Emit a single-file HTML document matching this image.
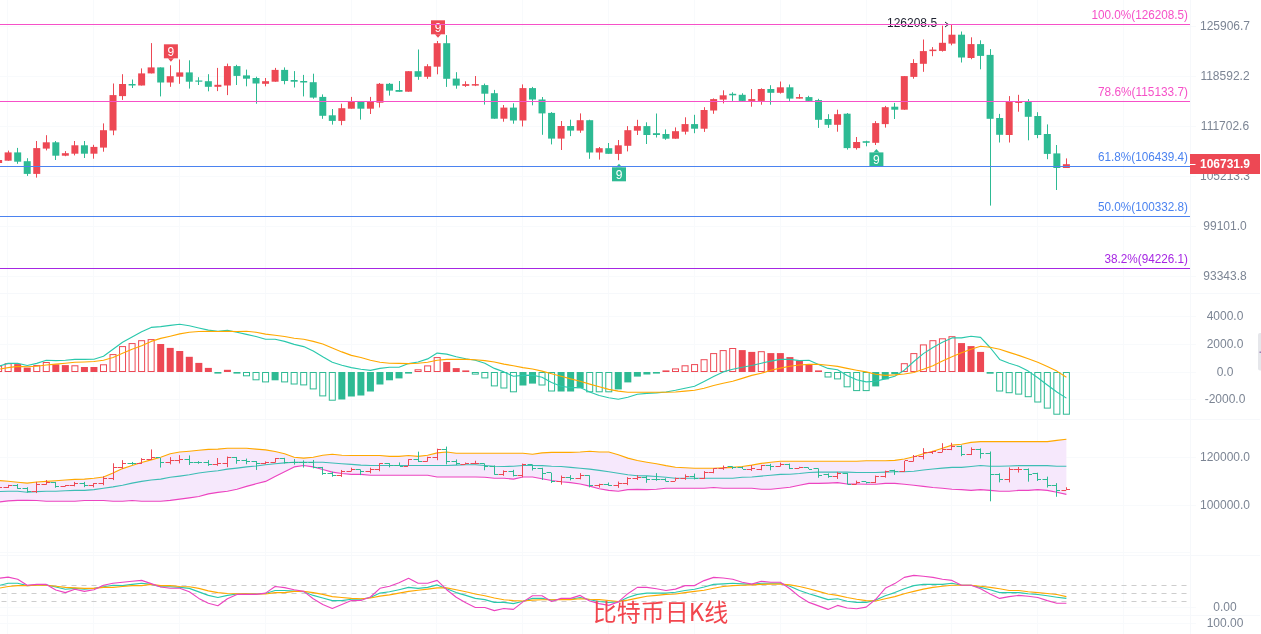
<!DOCTYPE html>
<html lang="zh"><head><meta charset="utf-8"><title>比特币日K线</title>
<style>html,body{margin:0;padding:0;background:#fff}body{width:1261px;height:634px;overflow:hidden}</style>
</head><body>
<svg width="1261" height="634" viewBox="0 0 1261 634" style="display:block;font-family:'Liberation Sans', 'Noto Sans CJK SC', sans-serif">
<rect width="1261" height="634" fill="#fff"/>
<g stroke="#F8FAFC" stroke-width="1" shape-rendering="crispEdges">
<line x1="7.5" y1="0" x2="7.5" y2="634"/>
<line x1="93.5" y1="0" x2="93.5" y2="634"/>
<line x1="179.5" y1="0" x2="179.5" y2="634"/>
<line x1="265.5" y1="0" x2="265.5" y2="634"/>
<line x1="351.5" y1="0" x2="351.5" y2="634"/>
<line x1="436.5" y1="0" x2="436.5" y2="634"/>
<line x1="522.5" y1="0" x2="522.5" y2="634"/>
<line x1="608.5" y1="0" x2="608.5" y2="634"/>
<line x1="694.5" y1="0" x2="694.5" y2="634"/>
<line x1="780.5" y1="0" x2="780.5" y2="634"/>
<line x1="866.5" y1="0" x2="866.5" y2="634"/>
<line x1="951.5" y1="0" x2="951.5" y2="634"/>
<line x1="1037.5" y1="0" x2="1037.5" y2="634"/>
<line x1="1123.5" y1="0" x2="1123.5" y2="634"/>
<line x1="0" y1="26.5" x2="1196" y2="26.5"/>
<line x1="0" y1="76.5" x2="1196" y2="76.5"/>
<line x1="0" y1="126.5" x2="1196" y2="126.5"/>
<line x1="0" y1="176.5" x2="1196" y2="176.5"/>
<line x1="0" y1="226.5" x2="1196" y2="226.5"/>
<line x1="0" y1="276.5" x2="1196" y2="276.5"/>
<line x1="0" y1="316.5" x2="1196" y2="316.5"/>
<line x1="0" y1="344.5" x2="1196" y2="344.5"/>
<line x1="0" y1="372.5" x2="1196" y2="372.5"/>
<line x1="0" y1="399.5" x2="1196" y2="399.5"/>
<line x1="0" y1="457.5" x2="1196" y2="457.5"/>
<line x1="0" y1="505.5" x2="1196" y2="505.5"/>
<line x1="0" y1="552.5" x2="1190" y2="552.5"/>
<line x1="0" y1="607.5" x2="1196" y2="607.5"/>
<line x1="0" y1="623.5" x2="1196" y2="623.5"/>
</g>
<g stroke="#F6F8FB" stroke-width="1" shape-rendering="crispEdges">
<line x1="0" y1="293.5" x2="1260" y2="293.5"/>
<line x1="0" y1="419.5" x2="1260" y2="419.5"/>
<line x1="0" y1="555.5" x2="1260" y2="555.5"/>
<line x1="0" y1="615.5" x2="1260" y2="615.5"/>
<line x1="1190.5" y1="0" x2="1190.5" y2="634"/>
</g>
<text x="887" y="27" font-size="12" fill="#1E2230">126208.5</text>
<path d="M940 24.5H948M945 22L948.3 24.5L945 27" fill="none" stroke="#1E2230" stroke-width="1"/>
<rect x="-2" y="160" width="1" height="3" fill="#ED4854"/>
<rect x="-4.88" y="160" width="7" height="3" fill="#ED4854"/>
<rect x="8" y="150.6" width="1" height="10.1" fill="#ED4854"/>
<rect x="4.65" y="152.4" width="7" height="8.3" fill="#ED4854"/>
<rect x="17" y="147.9" width="1" height="15.9" fill="#2DBA93"/>
<rect x="14.18" y="152.4" width="7" height="9.3" fill="#2DBA93"/>
<rect x="27" y="158.2" width="1" height="17.7" fill="#2DBA93"/>
<rect x="23.72" y="161.2" width="7" height="12.7" fill="#2DBA93"/>
<rect x="36" y="141" width="1" height="36.6" fill="#ED4854"/>
<rect x="33.25" y="148.1" width="7" height="25.8" fill="#ED4854"/>
<rect x="46" y="135.2" width="1" height="15.2" fill="#ED4854"/>
<rect x="42.78" y="142.3" width="7" height="6.3" fill="#ED4854"/>
<rect x="55" y="141" width="1" height="19" fill="#2DBA93"/>
<rect x="52.32" y="142.3" width="7" height="13.4" fill="#2DBA93"/>
<rect x="65" y="151.1" width="1" height="5.1" fill="#ED4854"/>
<rect x="61.85" y="153.2" width="7" height="2.5" fill="#ED4854"/>
<rect x="74" y="141" width="1" height="14.4" fill="#ED4854"/>
<rect x="71.39" y="145.3" width="7" height="8.4" fill="#ED4854"/>
<rect x="84" y="141" width="1" height="17" fill="#2DBA93"/>
<rect x="80.92" y="145.3" width="7" height="8.4" fill="#2DBA93"/>
<rect x="93" y="144.8" width="1" height="13.9" fill="#ED4854"/>
<rect x="90.45" y="146.9" width="7" height="6.8" fill="#ED4854"/>
<rect x="103" y="123.4" width="1" height="28.3" fill="#ED4854"/>
<rect x="99.99" y="130.2" width="7" height="17.4" fill="#ED4854"/>
<rect x="113" y="83.5" width="1" height="51.7" fill="#ED4854"/>
<rect x="109.52" y="95.1" width="7" height="35.4" fill="#ED4854"/>
<rect x="122" y="74.2" width="1" height="25.7" fill="#ED4854"/>
<rect x="119.05" y="84" width="7" height="12.1" fill="#ED4854"/>
<rect x="132" y="79.5" width="1" height="8.5" fill="#2DBA93"/>
<rect x="128.59" y="84" width="7" height="1.5" fill="#2DBA93"/>
<rect x="141" y="68.4" width="1" height="17.1" fill="#ED4854"/>
<rect x="138.12" y="73.4" width="7" height="12.1" fill="#ED4854"/>
<rect x="151" y="43.1" width="1" height="30.3" fill="#ED4854"/>
<rect x="147.65" y="67.4" width="7" height="6" fill="#ED4854"/>
<rect x="160" y="67.4" width="1" height="29" fill="#2DBA93"/>
<rect x="157.19" y="67.4" width="7" height="15.1" fill="#2DBA93"/>
<rect x="170" y="65.3" width="1" height="21.5" fill="#ED4854"/>
<rect x="166.72" y="76.2" width="7" height="6.3" fill="#ED4854"/>
<rect x="179" y="59.5" width="1" height="24.3" fill="#ED4854"/>
<rect x="176.25" y="72.4" width="7" height="4.3" fill="#ED4854"/>
<rect x="189" y="60.3" width="1" height="28.3" fill="#2DBA93"/>
<rect x="185.79" y="72.4" width="7" height="9.3" fill="#2DBA93"/>
<rect x="198" y="77.2" width="1" height="7.8" fill="#2DBA93"/>
<rect x="195.32" y="80.5" width="7" height="1.2" fill="#2DBA93"/>
<rect x="208" y="74.2" width="1" height="17.1" fill="#2DBA93"/>
<rect x="204.86" y="81.2" width="7" height="5.6" fill="#2DBA93"/>
<rect x="217" y="67.9" width="1" height="23.2" fill="#ED4854"/>
<rect x="214.39" y="84.8" width="7" height="2" fill="#ED4854"/>
<rect x="227" y="63.6" width="1" height="31.5" fill="#ED4854"/>
<rect x="223.92" y="66.1" width="7" height="19.4" fill="#ED4854"/>
<rect x="236" y="64.8" width="1" height="20.2" fill="#2DBA93"/>
<rect x="233.46" y="66.1" width="7" height="9.8" fill="#2DBA93"/>
<rect x="246" y="69.6" width="1" height="16.7" fill="#2DBA93"/>
<rect x="242.99" y="75.4" width="7" height="3.3" fill="#2DBA93"/>
<rect x="256" y="76.7" width="1" height="27" fill="#2DBA93"/>
<rect x="252.52" y="78" width="7" height="5.5" fill="#2DBA93"/>
<rect x="265" y="78" width="1" height="8.3" fill="#ED4854"/>
<rect x="262.06" y="81.2" width="7" height="2.6" fill="#ED4854"/>
<rect x="275" y="67.9" width="1" height="13.8" fill="#ED4854"/>
<rect x="271.59" y="69.9" width="7" height="11.8" fill="#ED4854"/>
<rect x="284" y="67.4" width="1" height="16.9" fill="#2DBA93"/>
<rect x="281.12" y="69.9" width="7" height="11.1" fill="#2DBA93"/>
<rect x="294" y="71.1" width="1" height="16.4" fill="#2DBA93"/>
<rect x="290.66" y="80" width="7" height="1.7" fill="#2DBA93"/>
<rect x="303" y="74.9" width="1" height="21.5" fill="#2DBA93"/>
<rect x="300.19" y="81" width="7" height="1.5" fill="#2DBA93"/>
<rect x="313" y="73.7" width="1" height="25" fill="#2DBA93"/>
<rect x="309.73" y="82.2" width="7" height="15.4" fill="#2DBA93"/>
<rect x="322" y="94.4" width="1" height="24.4" fill="#2DBA93"/>
<rect x="319.26" y="96.9" width="7" height="18.9" fill="#2DBA93"/>
<rect x="332" y="109" width="1" height="15.6" fill="#2DBA93"/>
<rect x="328.79" y="115.3" width="7" height="5.6" fill="#2DBA93"/>
<rect x="341" y="103.7" width="1" height="21.5" fill="#ED4854"/>
<rect x="338.33" y="108.2" width="7" height="12.7" fill="#ED4854"/>
<rect x="351" y="96.9" width="1" height="11.8" fill="#ED4854"/>
<rect x="347.86" y="101.9" width="7" height="6.8" fill="#ED4854"/>
<rect x="360" y="101.9" width="1" height="17.7" fill="#2DBA93"/>
<rect x="357.39" y="101.9" width="7" height="6.8" fill="#2DBA93"/>
<rect x="370" y="96.9" width="1" height="17.1" fill="#ED4854"/>
<rect x="366.93" y="101.9" width="7" height="6.8" fill="#ED4854"/>
<rect x="379" y="83" width="1" height="24.5" fill="#ED4854"/>
<rect x="376.46" y="83.8" width="7" height="18.9" fill="#ED4854"/>
<rect x="389" y="83" width="1" height="12.6" fill="#2DBA93"/>
<rect x="385.99" y="83.8" width="7" height="6.8" fill="#2DBA93"/>
<rect x="399" y="81" width="1" height="10.8" fill="#2DBA93"/>
<rect x="395.53" y="90" width="7" height="1.8" fill="#2DBA93"/>
<rect x="408" y="71.2" width="1" height="20.5" fill="#ED4854"/>
<rect x="405.06" y="71.2" width="7" height="20.5" fill="#ED4854"/>
<rect x="418" y="49.5" width="1" height="30.3" fill="#2DBA93"/>
<rect x="414.59" y="71.2" width="7" height="5.6" fill="#2DBA93"/>
<rect x="427" y="64.2" width="1" height="14.6" fill="#ED4854"/>
<rect x="424.13" y="66.2" width="7" height="10.6" fill="#ED4854"/>
<rect x="437" y="41" width="1" height="33.3" fill="#ED4854"/>
<rect x="433.66" y="43.2" width="7" height="23.5" fill="#ED4854"/>
<rect x="446" y="35.1" width="1" height="51.8" fill="#2DBA93"/>
<rect x="443.2" y="43.2" width="7" height="35.6" fill="#2DBA93"/>
<rect x="456" y="72.2" width="1" height="16.5" fill="#2DBA93"/>
<rect x="452.73" y="78.6" width="7" height="7" fill="#2DBA93"/>
<rect x="465" y="81.3" width="1" height="5.6" fill="#ED4854"/>
<rect x="462.26" y="84.1" width="7" height="1.8" fill="#ED4854"/>
<rect x="475" y="76" width="1" height="10.1" fill="#ED4854"/>
<rect x="471.8" y="84.1" width="7" height="1.5" fill="#ED4854"/>
<rect x="484" y="83.6" width="1" height="21" fill="#2DBA93"/>
<rect x="481.33" y="85.1" width="7" height="8.6" fill="#2DBA93"/>
<rect x="494" y="89.9" width="1" height="28.8" fill="#2DBA93"/>
<rect x="490.86" y="93.2" width="7" height="25.5" fill="#2DBA93"/>
<rect x="503" y="105" width="1" height="16.7" fill="#ED4854"/>
<rect x="500.4" y="107.6" width="7" height="11.1" fill="#ED4854"/>
<rect x="513" y="103.3" width="1" height="20.4" fill="#2DBA93"/>
<rect x="509.93" y="107.6" width="7" height="12.9" fill="#2DBA93"/>
<rect x="522" y="84.4" width="1" height="42.1" fill="#ED4854"/>
<rect x="519.46" y="88.1" width="7" height="32.4" fill="#ED4854"/>
<rect x="532" y="86.9" width="1" height="18.4" fill="#2DBA93"/>
<rect x="529" y="88.1" width="7" height="11.4" fill="#2DBA93"/>
<rect x="542" y="97" width="1" height="37.8" fill="#2DBA93"/>
<rect x="538.53" y="99.5" width="7" height="13.9" fill="#2DBA93"/>
<rect x="551" y="112.1" width="1" height="32.3" fill="#2DBA93"/>
<rect x="548.07" y="112.9" width="7" height="25.7" fill="#2DBA93"/>
<rect x="561" y="121" width="1" height="29" fill="#ED4854"/>
<rect x="557.6" y="126" width="7" height="12.6" fill="#ED4854"/>
<rect x="570" y="119.7" width="1" height="16.4" fill="#2DBA93"/>
<rect x="567.13" y="126" width="7" height="4.6" fill="#2DBA93"/>
<rect x="580" y="113.4" width="1" height="19.4" fill="#ED4854"/>
<rect x="576.67" y="120.2" width="7" height="10.4" fill="#ED4854"/>
<rect x="589" y="119.7" width="1" height="39.1" fill="#2DBA93"/>
<rect x="586.2" y="120.2" width="7" height="32.3" fill="#2DBA93"/>
<rect x="599" y="147" width="1" height="12.6" fill="#ED4854"/>
<rect x="595.73" y="148.2" width="7" height="4.3" fill="#ED4854"/>
<rect x="608" y="143" width="1" height="10.8" fill="#2DBA93"/>
<rect x="605.27" y="148.2" width="7" height="5.6" fill="#2DBA93"/>
<rect x="618" y="140" width="1" height="20.2" fill="#ED4854"/>
<rect x="614.8" y="145.3" width="7" height="8.6" fill="#ED4854"/>
<rect x="627" y="126.1" width="1" height="25.3" fill="#ED4854"/>
<rect x="624.33" y="130.2" width="7" height="15.6" fill="#ED4854"/>
<rect x="637" y="119.8" width="1" height="15.2" fill="#ED4854"/>
<rect x="633.87" y="126.1" width="7" height="4.6" fill="#ED4854"/>
<rect x="646" y="122.3" width="1" height="21.7" fill="#2DBA93"/>
<rect x="643.4" y="126.1" width="7" height="8.9" fill="#2DBA93"/>
<rect x="656" y="113.5" width="1" height="24" fill="#2DBA93"/>
<rect x="652.93" y="133.2" width="7" height="1.8" fill="#2DBA93"/>
<rect x="665" y="129.4" width="1" height="10.4" fill="#2DBA93"/>
<rect x="662.47" y="134" width="7" height="4.7" fill="#2DBA93"/>
<rect x="675" y="127.4" width="1" height="11.3" fill="#ED4854"/>
<rect x="672" y="131.2" width="7" height="7.5" fill="#ED4854"/>
<rect x="685" y="117.3" width="1" height="17.2" fill="#ED4854"/>
<rect x="681.54" y="124.1" width="7" height="7.6" fill="#ED4854"/>
<rect x="694" y="114.8" width="1" height="18.4" fill="#2DBA93"/>
<rect x="691.07" y="124.1" width="7" height="4.6" fill="#2DBA93"/>
<rect x="704" y="107.2" width="1" height="24.7" fill="#ED4854"/>
<rect x="700.6" y="110" width="7" height="18.7" fill="#ED4854"/>
<rect x="713" y="98.4" width="1" height="15.4" fill="#ED4854"/>
<rect x="710.14" y="99.1" width="7" height="11.4" fill="#ED4854"/>
<rect x="723" y="90.3" width="1" height="13.1" fill="#ED4854"/>
<rect x="719.67" y="95.3" width="7" height="4.3" fill="#ED4854"/>
<rect x="732" y="92.3" width="1" height="8.6" fill="#2DBA93"/>
<rect x="729.2" y="93.8" width="7" height="1.5" fill="#2DBA93"/>
<rect x="742" y="93.3" width="1" height="7.6" fill="#2DBA93"/>
<rect x="738.74" y="94.8" width="7" height="6.1" fill="#2DBA93"/>
<rect x="751" y="89" width="1" height="17.7" fill="#ED4854"/>
<rect x="748.27" y="99.1" width="7" height="1.8" fill="#ED4854"/>
<rect x="761" y="88.3" width="1" height="16.4" fill="#ED4854"/>
<rect x="757.8" y="89" width="7" height="11.9" fill="#ED4854"/>
<rect x="770" y="85.2" width="1" height="19.5" fill="#2DBA93"/>
<rect x="767.34" y="89" width="7" height="3.8" fill="#2DBA93"/>
<rect x="780" y="81.5" width="1" height="12.1" fill="#ED4854"/>
<rect x="776.87" y="87.3" width="7" height="5.5" fill="#ED4854"/>
<rect x="789" y="84.5" width="1" height="16.4" fill="#2DBA93"/>
<rect x="786.41" y="87.3" width="7" height="11.3" fill="#2DBA93"/>
<rect x="799" y="94.1" width="1" height="4.5" fill="#ED4854"/>
<rect x="795.94" y="97.1" width="7" height="1.5" fill="#ED4854"/>
<rect x="808" y="95.8" width="1" height="5.1" fill="#2DBA93"/>
<rect x="805.47" y="97.1" width="7" height="3.8" fill="#2DBA93"/>
<rect x="818" y="98.8" width="1" height="29.1" fill="#2DBA93"/>
<rect x="815.01" y="100.1" width="7" height="19.7" fill="#2DBA93"/>
<rect x="828" y="114.2" width="1" height="13.7" fill="#2DBA93"/>
<rect x="824.54" y="119" width="7" height="5.8" fill="#2DBA93"/>
<rect x="837" y="109.7" width="1" height="22" fill="#ED4854"/>
<rect x="834.07" y="114.2" width="7" height="10.6" fill="#ED4854"/>
<rect x="847" y="113" width="1" height="36.6" fill="#2DBA93"/>
<rect x="843.61" y="113.7" width="7" height="34.4" fill="#2DBA93"/>
<rect x="856" y="137" width="1" height="12.6" fill="#ED4854"/>
<rect x="853.14" y="142" width="7" height="6.1" fill="#ED4854"/>
<rect x="866" y="140.7" width="1" height="5.6" fill="#2DBA93"/>
<rect x="862.67" y="141.2" width="7" height="1.6" fill="#2DBA93"/>
<rect x="875" y="121.1" width="1" height="23.9" fill="#ED4854"/>
<rect x="872.21" y="123.1" width="7" height="19.7" fill="#ED4854"/>
<rect x="885" y="105.9" width="1" height="21.7" fill="#ED4854"/>
<rect x="881.74" y="107.2" width="7" height="16.9" fill="#ED4854"/>
<rect x="894" y="102.9" width="1" height="16.1" fill="#2DBA93"/>
<rect x="891.27" y="106.7" width="7" height="3" fill="#2DBA93"/>
<rect x="904" y="76.1" width="1" height="33.6" fill="#ED4854"/>
<rect x="900.81" y="76.1" width="7" height="33.6" fill="#ED4854"/>
<rect x="913" y="59.2" width="1" height="19.5" fill="#ED4854"/>
<rect x="910.34" y="63" width="7" height="13.9" fill="#ED4854"/>
<rect x="923" y="39.5" width="1" height="32.3" fill="#ED4854"/>
<rect x="919.88" y="51.1" width="7" height="12.7" fill="#ED4854"/>
<rect x="932" y="47.1" width="1" height="9.1" fill="#ED4854"/>
<rect x="929.41" y="49.6" width="7" height="1.5" fill="#ED4854"/>
<rect x="942" y="25.6" width="1" height="26" fill="#ED4854"/>
<rect x="938.94" y="42.8" width="7" height="8.1" fill="#ED4854"/>
<rect x="951" y="24.4" width="1" height="20.9" fill="#ED4854"/>
<rect x="948.48" y="34.7" width="7" height="8.9" fill="#ED4854"/>
<rect x="961" y="31.5" width="1" height="31" fill="#2DBA93"/>
<rect x="958.01" y="34.7" width="7" height="22.8" fill="#2DBA93"/>
<rect x="971" y="37.3" width="1" height="21.9" fill="#ED4854"/>
<rect x="967.54" y="44.1" width="7" height="13.9" fill="#ED4854"/>
<rect x="980" y="40.3" width="1" height="29" fill="#2DBA93"/>
<rect x="977.08" y="44.1" width="7" height="11.8" fill="#2DBA93"/>
<rect x="990" y="49.1" width="1" height="156.5" fill="#2DBA93"/>
<rect x="986.61" y="54.9" width="7" height="63.9" fill="#2DBA93"/>
<rect x="999" y="113.9" width="1" height="28.6" fill="#2DBA93"/>
<rect x="996.14" y="118" width="7" height="16.8" fill="#2DBA93"/>
<rect x="1009" y="96.1" width="1" height="46.4" fill="#ED4854"/>
<rect x="1005.68" y="101.6" width="7" height="33.4" fill="#ED4854"/>
<rect x="1018" y="94.8" width="1" height="16.9" fill="#ED4854"/>
<rect x="1015.21" y="101.6" width="7" height="1.3" fill="#ED4854"/>
<rect x="1028" y="99.1" width="1" height="41.2" fill="#2DBA93"/>
<rect x="1024.75" y="101.6" width="7" height="15.2" fill="#2DBA93"/>
<rect x="1037" y="112.2" width="1" height="26" fill="#2DBA93"/>
<rect x="1034.28" y="116" width="7" height="19" fill="#2DBA93"/>
<rect x="1047" y="124.4" width="1" height="34.8" fill="#2DBA93"/>
<rect x="1043.81" y="134" width="7" height="19.9" fill="#2DBA93"/>
<rect x="1056" y="145" width="1" height="45" fill="#2DBA93"/>
<rect x="1053.35" y="153.4" width="7" height="14.6" fill="#2DBA93"/>
<rect x="1066" y="158.4" width="1" height="9.6" fill="#ED4854"/>
<rect x="1062.88" y="164.2" width="7" height="3.8" fill="#ED4854"/>
<rect x="163.9" y="44.3" width="14" height="14" fill="#ED4854"/>
<path d="M167.9 58.3L170.9 61.8L173.9 58.3Z" fill="#ED4854"/>
<text x="170.9" y="55.6" font-size="12" text-anchor="middle" fill="#fff">9</text>
<rect x="431" y="20.3" width="14" height="14" fill="#ED4854"/>
<path d="M435 34.3L438 37.8L441 34.3Z" fill="#ED4854"/>
<text x="438" y="31.6" font-size="12" text-anchor="middle" fill="#fff">9</text>
<rect x="612" y="167.3" width="14" height="14" fill="#2DBA93"/>
<path d="M616 167.3L619 163.8L622 167.3Z" fill="#2DBA93"/>
<text x="619" y="178.6" font-size="12" text-anchor="middle" fill="#fff">9</text>
<rect x="869.4" y="152.4" width="14" height="14" fill="#2DBA93"/>
<path d="M873.4 152.4L876.4 148.9L879.4 152.4Z" fill="#2DBA93"/>
<text x="876.4" y="163.7" font-size="12" text-anchor="middle" fill="#fff">9</text>
<rect x="0" y="24" width="1190" height="1" fill="#F650C8"/>
<text x="1188" y="19" font-size="12" text-anchor="end" fill="#F650C8" textLength="96.5" lengthAdjust="spacingAndGlyphs">100.0%(126208.5)</text>
<rect x="0" y="101" width="1190" height="1" fill="#F650C8"/>
<text x="1188" y="96" font-size="12" text-anchor="end" fill="#F650C8" textLength="90" lengthAdjust="spacingAndGlyphs">78.6%(115133.7)</text>
<rect x="0" y="166" width="1190" height="1" fill="#4B83F0"/>
<text x="1188" y="161" font-size="12" text-anchor="end" fill="#4B83F0" textLength="90" lengthAdjust="spacingAndGlyphs">61.8%(106439.4)</text>
<rect x="0" y="216" width="1190" height="1" fill="#4B83F0"/>
<text x="1188" y="211" font-size="12" text-anchor="end" fill="#4B83F0" textLength="90" lengthAdjust="spacingAndGlyphs">50.0%(100332.8)</text>
<rect x="0" y="268" width="1190" height="1" fill="#A626E3"/>
<text x="1188" y="263" font-size="12" text-anchor="end" fill="#A626E3" textLength="83.5" lengthAdjust="spacingAndGlyphs">38.2%(94226.1)</text>
<rect x="-4.38" y="366" width="6" height="5.5" fill="#fff" stroke="#ED4854" stroke-width="1"/>
<rect x="5.15" y="363.7" width="6" height="7.8" fill="#fff" stroke="#ED4854" stroke-width="1"/>
<rect x="14.18" y="364.1" width="7" height="7.9" fill="#ED4854"/>
<rect x="23.72" y="367.6" width="7" height="4.4" fill="#ED4854"/>
<rect x="33.75" y="365.6" width="6" height="5.9" fill="#fff" stroke="#ED4854" stroke-width="1"/>
<rect x="43.28" y="362.5" width="6" height="9" fill="#fff" stroke="#ED4854" stroke-width="1"/>
<rect x="52.32" y="364.4" width="7" height="7.6" fill="#ED4854"/>
<rect x="61.85" y="365.1" width="7" height="6.9" fill="#ED4854"/>
<rect x="71.89" y="365.8" width="6" height="5.7" fill="#fff" stroke="#ED4854" stroke-width="1"/>
<rect x="80.92" y="367" width="7" height="5" fill="#ED4854"/>
<rect x="90.45" y="367" width="7" height="5" fill="#ED4854"/>
<rect x="100.49" y="364.8" width="6" height="6.7" fill="#fff" stroke="#ED4854" stroke-width="1"/>
<rect x="110.02" y="354.6" width="6" height="16.9" fill="#fff" stroke="#ED4854" stroke-width="1"/>
<rect x="119.55" y="346.6" width="6" height="24.9" fill="#fff" stroke="#ED4854" stroke-width="1"/>
<rect x="129.09" y="343.6" width="6" height="27.9" fill="#fff" stroke="#ED4854" stroke-width="1"/>
<rect x="138.62" y="340.7" width="6" height="30.8" fill="#fff" stroke="#ED4854" stroke-width="1"/>
<rect x="148.15" y="339.6" width="6" height="31.9" fill="#fff" stroke="#ED4854" stroke-width="1"/>
<rect x="157.19" y="344" width="7" height="28" fill="#ED4854"/>
<rect x="166.72" y="347.9" width="7" height="24.1" fill="#ED4854"/>
<rect x="176.25" y="351" width="7" height="21" fill="#ED4854"/>
<rect x="185.79" y="356.8" width="7" height="15.2" fill="#ED4854"/>
<rect x="195.32" y="362.9" width="7" height="9.1" fill="#ED4854"/>
<rect x="204.86" y="367.9" width="7" height="4.1" fill="#ED4854"/>
<rect x="214.39" y="372" width="7" height="1.6" fill="#2DBA93"/>
<rect x="223.92" y="369.8" width="7" height="2.2" fill="#ED4854"/>
<rect x="233.46" y="372" width="7" height="1.6" fill="#2DBA93"/>
<rect x="243.49" y="372.5" width="6" height="3.3" fill="#fff" stroke="#2DBA93" stroke-width="1"/>
<rect x="253.02" y="372.5" width="6" height="7.3" fill="#fff" stroke="#2DBA93" stroke-width="1"/>
<rect x="262.56" y="372.5" width="6" height="9.4" fill="#fff" stroke="#2DBA93" stroke-width="1"/>
<rect x="271.59" y="372" width="7" height="8.3" fill="#2DBA93"/>
<rect x="281.62" y="372.5" width="6" height="9.4" fill="#fff" stroke="#2DBA93" stroke-width="1"/>
<rect x="291.16" y="372.5" width="6" height="11.5" fill="#fff" stroke="#2DBA93" stroke-width="1"/>
<rect x="300.69" y="372.5" width="6" height="12.4" fill="#fff" stroke="#2DBA93" stroke-width="1"/>
<rect x="310.23" y="372.5" width="6" height="16.4" fill="#fff" stroke="#2DBA93" stroke-width="1"/>
<rect x="319.76" y="372.5" width="6" height="23.4" fill="#fff" stroke="#2DBA93" stroke-width="1"/>
<rect x="329.29" y="372.5" width="6" height="27.7" fill="#fff" stroke="#2DBA93" stroke-width="1"/>
<rect x="338.33" y="372" width="7" height="27.5" fill="#2DBA93"/>
<rect x="347.86" y="372" width="7" height="24.5" fill="#2DBA93"/>
<rect x="357.39" y="372" width="7" height="23.5" fill="#2DBA93"/>
<rect x="366.93" y="372" width="7" height="19.5" fill="#2DBA93"/>
<rect x="376.46" y="372" width="7" height="12.5" fill="#2DBA93"/>
<rect x="385.99" y="372" width="7" height="8.3" fill="#2DBA93"/>
<rect x="395.53" y="372" width="7" height="6.4" fill="#2DBA93"/>
<rect x="405.06" y="372" width="7" height="1.6" fill="#2DBA93"/>
<rect x="415.09" y="369.8" width="6" height="1.7" fill="#fff" stroke="#ED4854" stroke-width="1"/>
<rect x="424.63" y="365.9" width="6" height="5.6" fill="#fff" stroke="#ED4854" stroke-width="1"/>
<rect x="434.16" y="357.6" width="6" height="13.9" fill="#fff" stroke="#ED4854" stroke-width="1"/>
<rect x="443.2" y="362" width="7" height="10" fill="#ED4854"/>
<rect x="452.73" y="368.1" width="7" height="3.9" fill="#ED4854"/>
<rect x="462.26" y="370.4" width="7" height="1.6" fill="#ED4854"/>
<rect x="472.3" y="372.5" width="6" height="1.6" fill="#fff" stroke="#2DBA93" stroke-width="1"/>
<rect x="481.83" y="372.5" width="6" height="5.4" fill="#fff" stroke="#2DBA93" stroke-width="1"/>
<rect x="491.36" y="372.5" width="6" height="13.4" fill="#fff" stroke="#2DBA93" stroke-width="1"/>
<rect x="500.9" y="372.5" width="6" height="15.5" fill="#fff" stroke="#2DBA93" stroke-width="1"/>
<rect x="510.43" y="372.5" width="6" height="19.3" fill="#fff" stroke="#2DBA93" stroke-width="1"/>
<rect x="519.46" y="372" width="7" height="13.5" fill="#2DBA93"/>
<rect x="529" y="372" width="7" height="11.6" fill="#2DBA93"/>
<rect x="539.03" y="372.5" width="6" height="12.5" fill="#fff" stroke="#2DBA93" stroke-width="1"/>
<rect x="548.57" y="372.5" width="6" height="18.5" fill="#fff" stroke="#2DBA93" stroke-width="1"/>
<rect x="557.6" y="372" width="7" height="19.5" fill="#2DBA93"/>
<rect x="567.13" y="372" width="7" height="19.5" fill="#2DBA93"/>
<rect x="576.67" y="372" width="7" height="16.2" fill="#2DBA93"/>
<rect x="586.7" y="372.5" width="6" height="19.3" fill="#fff" stroke="#2DBA93" stroke-width="1"/>
<rect x="596.23" y="372.5" width="6" height="19.3" fill="#fff" stroke="#2DBA93" stroke-width="1"/>
<rect x="605.77" y="372.5" width="6" height="19.3" fill="#fff" stroke="#2DBA93" stroke-width="1"/>
<rect x="614.8" y="372" width="7" height="17.4" fill="#2DBA93"/>
<rect x="624.33" y="372" width="7" height="10.4" fill="#2DBA93"/>
<rect x="633.87" y="372" width="7" height="4.6" fill="#2DBA93"/>
<rect x="643.4" y="372" width="7" height="2.5" fill="#2DBA93"/>
<rect x="652.93" y="372" width="7" height="1.6" fill="#2DBA93"/>
<rect x="662.47" y="370.4" width="7" height="1.6" fill="#ED4854"/>
<rect x="672.5" y="368.9" width="6" height="2.6" fill="#fff" stroke="#ED4854" stroke-width="1"/>
<rect x="682.04" y="365.8" width="6" height="5.7" fill="#fff" stroke="#ED4854" stroke-width="1"/>
<rect x="691.57" y="364.6" width="6" height="6.9" fill="#fff" stroke="#ED4854" stroke-width="1"/>
<rect x="701.1" y="359.7" width="6" height="11.8" fill="#fff" stroke="#ED4854" stroke-width="1"/>
<rect x="710.64" y="353.6" width="6" height="17.9" fill="#fff" stroke="#ED4854" stroke-width="1"/>
<rect x="720.17" y="350.6" width="6" height="20.9" fill="#fff" stroke="#ED4854" stroke-width="1"/>
<rect x="729.7" y="348.5" width="6" height="23" fill="#fff" stroke="#ED4854" stroke-width="1"/>
<rect x="738.74" y="350.1" width="7" height="21.9" fill="#ED4854"/>
<rect x="748.27" y="351.9" width="7" height="20.1" fill="#ED4854"/>
<rect x="758.3" y="351.7" width="6" height="19.8" fill="#fff" stroke="#ED4854" stroke-width="1"/>
<rect x="767.34" y="353.1" width="7" height="18.9" fill="#ED4854"/>
<rect x="776.87" y="353.1" width="7" height="18.9" fill="#ED4854"/>
<rect x="786.41" y="357.1" width="7" height="14.9" fill="#ED4854"/>
<rect x="795.94" y="360.9" width="7" height="11.1" fill="#ED4854"/>
<rect x="805.47" y="364.1" width="7" height="7.9" fill="#ED4854"/>
<rect x="815.01" y="370.4" width="7" height="1.6" fill="#ED4854"/>
<rect x="825.04" y="372.5" width="6" height="4.5" fill="#fff" stroke="#2DBA93" stroke-width="1"/>
<rect x="834.57" y="372.5" width="6" height="6.4" fill="#fff" stroke="#2DBA93" stroke-width="1"/>
<rect x="844.11" y="372.5" width="6" height="14.3" fill="#fff" stroke="#2DBA93" stroke-width="1"/>
<rect x="853.64" y="372.5" width="6" height="18.1" fill="#fff" stroke="#2DBA93" stroke-width="1"/>
<rect x="863.17" y="372.5" width="6" height="18.1" fill="#fff" stroke="#2DBA93" stroke-width="1"/>
<rect x="872.21" y="372" width="7" height="14.4" fill="#2DBA93"/>
<rect x="881.74" y="372" width="7" height="7.4" fill="#2DBA93"/>
<rect x="891.27" y="372" width="7" height="2.2" fill="#2DBA93"/>
<rect x="901.31" y="363.7" width="6" height="7.8" fill="#fff" stroke="#ED4854" stroke-width="1"/>
<rect x="910.84" y="353.6" width="6" height="17.9" fill="#fff" stroke="#ED4854" stroke-width="1"/>
<rect x="920.38" y="344.9" width="6" height="26.6" fill="#fff" stroke="#ED4854" stroke-width="1"/>
<rect x="929.91" y="340.7" width="6" height="30.8" fill="#fff" stroke="#ED4854" stroke-width="1"/>
<rect x="939.44" y="338.8" width="6" height="32.7" fill="#fff" stroke="#ED4854" stroke-width="1"/>
<rect x="948.98" y="336.7" width="6" height="34.8" fill="#fff" stroke="#ED4854" stroke-width="1"/>
<rect x="958.01" y="343.1" width="7" height="28.9" fill="#ED4854"/>
<rect x="967.54" y="346.1" width="7" height="25.9" fill="#ED4854"/>
<rect x="977.08" y="351.9" width="7" height="20.1" fill="#ED4854"/>
<rect x="986.61" y="372" width="7" height="1.7" fill="#2DBA93"/>
<rect x="996.64" y="372.5" width="6" height="18.5" fill="#fff" stroke="#2DBA93" stroke-width="1"/>
<rect x="1006.18" y="372.5" width="6" height="20.2" fill="#fff" stroke="#2DBA93" stroke-width="1"/>
<rect x="1015.71" y="372.5" width="6" height="21.6" fill="#fff" stroke="#2DBA93" stroke-width="1"/>
<rect x="1025.25" y="372.5" width="6" height="24.2" fill="#fff" stroke="#2DBA93" stroke-width="1"/>
<rect x="1034.78" y="372.5" width="6" height="29.5" fill="#fff" stroke="#2DBA93" stroke-width="1"/>
<rect x="1044.31" y="372.5" width="6" height="35.6" fill="#fff" stroke="#2DBA93" stroke-width="1"/>
<rect x="1053.85" y="372.5" width="6" height="41.7" fill="#fff" stroke="#2DBA93" stroke-width="1"/>
<rect x="1063.38" y="372.5" width="6" height="41.7" fill="#fff" stroke="#2DBA93" stroke-width="1"/>
<polyline points="-1.38,366.2 8.15,363.4 17.68,363.2 27.22,365.5 36.75,363.4 46.28,360.2 55.82,360.6 65.35,360.2 74.89,359.4 84.42,359.4 93.95,359.2 103.49,356.2 113.02,349.3 122.55,342.3 132.09,337 141.62,331.8 151.15,327.4 160.69,326.6 170.22,325.4 179.75,324.3 189.29,325.7 198.82,328 208.36,330.1 217.89,331.2 227.42,330.4 236.96,332.3 246.49,334.4 256.02,336.5 265.56,339.3 275.09,339.3 284.62,341.4 294.16,344.4 303.69,346.6 313.23,351 322.76,356.8 332.29,362.3 341.83,365.3 351.36,367.6 360.89,369.3 370.43,370.4 379.96,368.4 389.49,367.2 399.03,367.2 408.56,363.6 418.09,362 427.63,358.9 437.16,353.1 446.7,354.1 456.23,356.8 465.76,358.8 475.3,360.2 484.83,363.2 494.36,368.4 503.9,371.9 513.43,376.3 522.96,375.4 532.5,375.1 542.03,377.2 551.57,382.4 561.1,386.2 570.63,387.6 580.17,387.6 589.7,392 599.23,395.5 608.77,397.8 618.3,399.3 627.83,397.2 637.37,394.3 646.9,393.4 656.43,392.9 665.97,392 675.5,390.3 685.04,388.2 694.57,386.2 704.1,381.5 713.64,376.6 723.17,371.9 732.7,369.3 742.24,367.2 751.77,365.5 761.3,363.2 770.84,361.1 780.37,359.4 789.91,359.4 799.44,360.6 808.97,360.2 818.51,364.4 828.04,368.4 837.57,369.8 847.11,375.4 856.64,379.8 866.17,381.9 875.71,381.2 885.24,378.9 894.77,376.3 904.31,370.2 913.84,361.5 923.38,353.6 932.91,347.5 942.44,342.3 951.98,337.9 961.51,337.9 971.04,336.2 980.58,337.4 990.11,347.5 999.64,359.4 1009.18,363.2 1018.71,366.2 1028.25,371.1 1037.78,377.7 1047.31,385 1056.85,392 1066.38,398.1" fill="none" stroke="#2AC8AC" stroke-width="1.12" stroke-linejoin="round"/>
<polyline points="-1.38,369.3 8.15,367.6 17.68,366.4 27.22,366.7 36.75,366.2 46.28,365 55.82,364.1 65.35,363.2 74.89,362.3 84.42,362 93.95,361.5 103.49,360.2 113.02,357.5 122.55,353.3 132.09,349.3 141.62,345.8 151.15,341.4 160.69,338.4 170.22,336.2 179.75,333.9 189.29,332.2 198.82,331.5 208.36,331.3 217.89,331.5 227.42,331.3 236.96,331.5 246.49,331.3 256.02,332.3 265.56,334.1 275.09,335.3 284.62,336.5 294.16,338.3 303.69,339.3 313.23,341.4 322.76,344 332.29,348 341.83,351.9 351.36,355.4 360.89,357.5 370.43,360.2 379.96,362.3 389.49,363.2 399.03,363.4 408.56,363.6 418.09,363.2 427.63,362.3 437.16,360.2 446.7,359.4 456.23,359.4 465.76,359.4 475.3,359.7 484.83,360.6 494.36,362 503.9,364.1 513.43,365.8 522.96,367.6 532.5,369 542.03,371.1 551.57,373.7 561.1,376.3 570.63,378.9 580.17,381.2 589.7,384.1 599.23,386.8 608.77,389.4 618.3,391.1 627.83,392.3 637.37,392.3 646.9,392.3 656.43,392.3 665.97,392.2 675.5,392 685.04,391.1 694.57,390.3 704.1,388.2 713.64,385.5 723.17,383.3 732.7,381.2 742.24,378.4 751.77,375.4 761.3,373.3 770.84,370.2 780.37,368.1 789.91,366.2 799.44,365 808.97,364.4 818.51,364.4 828.04,365.3 837.57,366.4 847.11,368.4 856.64,370.2 866.17,371.9 875.71,374.2 885.24,375.4 894.77,374.9 904.31,374 913.84,372.5 923.38,369.3 932.91,365.8 942.44,361.1 951.98,356.8 961.51,352.7 971.04,349.3 980.58,346.3 990.11,347.2 999.64,349.3 1009.18,352.4 1018.71,355.4 1028.25,358.8 1037.78,362.3 1047.31,366.4 1056.85,371.1 1066.38,377.2" fill="none" stroke="#FFA800" stroke-width="1.12" stroke-linejoin="round"/>
<polygon points="-1.38,480.5 8.15,481.2 17.68,482.2 27.22,483.1 36.75,482 46.28,481.4 55.82,480.8 65.35,480 74.89,479.4 84.42,479.1 93.95,478.2 103.49,477 113.02,473 122.55,468.6 132.09,465.5 141.62,462.5 151.15,459.9 160.69,457.3 170.22,453.8 179.75,452 189.29,451.2 198.82,450.3 208.36,449.4 217.89,449.1 227.42,448.2 236.96,448.2 246.49,448.2 256.02,449.1 265.56,449.9 275.09,451.5 284.62,453.8 294.16,457.3 303.69,458.1 313.23,457.3 322.76,455.2 332.29,454.3 341.83,455.2 351.36,455.5 360.89,455.5 370.43,455.5 379.96,455.5 389.49,456.4 399.03,456.4 408.56,455.5 418.09,456.4 427.63,455.2 437.16,452.9 446.7,452 456.23,453.3 465.76,453.3 475.3,453.3 484.83,453.3 494.36,453.3 503.9,453.3 513.43,453.3 522.96,453.3 532.5,454.3 542.03,452.9 551.57,452.4 561.1,452.4 570.63,452.4 580.17,452 589.7,451.2 599.23,452 608.77,452 618.3,454.7 627.83,458.1 637.37,460.5 646.9,462.2 656.43,463.7 665.97,465.6 675.5,467.2 685.04,467.7 694.57,468.3 704.1,468.3 713.64,468.3 723.17,467.9 732.7,467.4 742.24,466.5 751.77,465.1 761.3,463.4 770.84,462.2 780.37,461.3 789.91,461.3 799.44,461.3 808.97,461.3 818.51,461.3 828.04,461.3 837.57,461.3 847.11,461.3 856.64,461.3 866.17,460.8 875.71,460.8 885.24,460.8 894.77,460.4 904.31,459 913.84,456.8 923.38,453.8 932.91,451.2 942.44,448.2 951.98,445.1 961.51,444.2 971.04,442.4 980.58,441.6 990.11,441.6 999.64,441.6 1009.18,441.6 1018.71,441.6 1028.25,441.6 1037.78,441.6 1047.31,441.6 1056.85,440.4 1066.38,439.3 1066.38,494.4 1056.85,492.2 1047.31,490.4 1037.78,489.6 1028.25,490.4 1018.71,490.4 1009.18,491.3 999.64,491.3 990.11,490.4 980.58,489.6 971.04,490.4 961.51,489.6 951.98,489.2 942.44,488.3 932.91,487.5 923.38,486.4 913.84,485.2 904.31,484.3 894.77,483.4 885.24,483.4 875.71,484.3 866.17,484.3 856.64,484 847.11,484 837.57,482.6 828.04,483.1 818.51,483.4 808.97,483.4 799.44,485.2 789.91,487.3 780.37,488.3 770.84,489.2 761.3,489.2 751.77,488.3 742.24,488.2 732.7,488.2 723.17,488.2 713.64,487.5 704.1,488.2 694.57,488.2 685.04,488.2 675.5,488.2 665.97,488.3 656.43,489.2 646.9,489.6 637.37,489.4 627.83,489.6 618.3,491.3 608.77,490.4 599.23,488.7 589.7,486.1 580.17,484 570.63,482.6 561.1,481.7 551.57,480.5 542.03,478.7 532.5,477 522.96,477 513.43,479.1 503.9,478.2 494.36,478.2 484.83,477.3 475.3,477 465.76,477 456.23,477 446.7,477 437.16,477 427.63,475.2 418.09,475.2 408.56,475.2 399.03,475.2 389.49,475.2 379.96,475.2 370.43,475.2 360.89,474.4 351.36,474.4 341.83,473.5 332.29,472.1 322.76,469.5 313.23,466.9 303.69,465.5 294.16,466.9 284.62,471.8 275.09,476.5 265.56,481.4 256.02,483.8 246.49,486.4 236.96,489.2 227.42,491.3 217.89,492.4 208.36,493.9 198.82,496.5 189.29,497.9 179.75,499.1 170.22,500.4 160.69,501.2 151.15,501.2 141.62,501.2 132.09,500.5 122.55,501.2 113.02,501.2 103.49,500.5 93.95,500.5 84.42,500.5 74.89,501.2 65.35,501.2 55.82,501.2 46.28,501.2 36.75,500.5 27.22,500.4 17.68,500.4 8.15,500.9 -1.38,502.1" fill="#F6E8FC"/>
<polyline points="-1.38,480.5 8.15,481.2 17.68,482.2 27.22,483.1 36.75,482 46.28,481.4 55.82,480.8 65.35,480 74.89,479.4 84.42,479.1 93.95,478.2 103.49,477 113.02,473 122.55,468.6 132.09,465.5 141.62,462.5 151.15,459.9 160.69,457.3 170.22,453.8 179.75,452 189.29,451.2 198.82,450.3 208.36,449.4 217.89,449.1 227.42,448.2 236.96,448.2 246.49,448.2 256.02,449.1 265.56,449.9 275.09,451.5 284.62,453.8 294.16,457.3 303.69,458.1 313.23,457.3 322.76,455.2 332.29,454.3 341.83,455.2 351.36,455.5 360.89,455.5 370.43,455.5 379.96,455.5 389.49,456.4 399.03,456.4 408.56,455.5 418.09,456.4 427.63,455.2 437.16,452.9 446.7,452 456.23,453.3 465.76,453.3 475.3,453.3 484.83,453.3 494.36,453.3 503.9,453.3 513.43,453.3 522.96,453.3 532.5,454.3 542.03,452.9 551.57,452.4 561.1,452.4 570.63,452.4 580.17,452 589.7,451.2 599.23,452 608.77,452 618.3,454.7 627.83,458.1 637.37,460.5 646.9,462.2 656.43,463.7 665.97,465.6 675.5,467.2 685.04,467.7 694.57,468.3 704.1,468.3 713.64,468.3 723.17,467.9 732.7,467.4 742.24,466.5 751.77,465.1 761.3,463.4 770.84,462.2 780.37,461.3 789.91,461.3 799.44,461.3 808.97,461.3 818.51,461.3 828.04,461.3 837.57,461.3 847.11,461.3 856.64,461.3 866.17,460.8 875.71,460.8 885.24,460.8 894.77,460.4 904.31,459 913.84,456.8 923.38,453.8 932.91,451.2 942.44,448.2 951.98,445.1 961.51,444.2 971.04,442.4 980.58,441.6 990.11,441.6 999.64,441.6 1009.18,441.6 1018.71,441.6 1028.25,441.6 1037.78,441.6 1047.31,441.6 1056.85,440.4 1066.38,439.3" fill="none" stroke="#FFA800" stroke-width="1.12" stroke-linejoin="round"/>
<polyline points="-1.38,491.6 8.15,491.3 17.68,491.3 27.22,492.2 36.75,491.6 46.28,491.3 55.82,491.3 65.35,490.8 74.89,490.4 84.42,490.4 93.95,489.6 103.49,488.3 113.02,486.9 122.55,485.2 132.09,483.1 141.62,481.4 151.15,480 160.69,479.1 170.22,477.3 179.75,476.1 189.29,474.7 198.82,473 208.36,471.8 217.89,470.7 227.42,469.1 236.96,468.1 246.49,466.9 256.02,466 265.56,464.8 275.09,463.7 284.62,462.9 294.16,462.2 303.69,462.2 313.23,462.2 322.76,462.2 332.29,463 341.83,463.7 351.36,464.4 360.89,465.1 370.43,465.5 379.96,465.5 389.49,465.5 399.03,465.5 408.56,465.5 418.09,465.5 427.63,465.5 437.16,465.5 446.7,465.5 456.23,465.1 465.76,464.8 475.3,464.8 484.83,465.5 494.36,466.3 503.9,466.5 513.43,466.3 522.96,465.5 532.5,465.5 542.03,465.6 551.57,466.2 561.1,466.5 570.63,467.4 580.17,468.3 589.7,469.1 599.23,470.4 608.77,471.8 618.3,473.3 627.83,474.7 637.37,475.7 646.9,475.9 656.43,476.5 665.97,477.3 675.5,478.2 685.04,478.2 694.57,478.2 704.1,478.2 713.64,478.2 723.17,478.2 732.7,478.2 742.24,477.3 751.77,477 761.3,476.1 770.84,475.2 780.37,474.4 789.91,474.2 799.44,473.5 808.97,472.5 818.51,472.1 828.04,472.1 837.57,472.1 847.11,472.1 856.64,472.5 866.17,472.5 875.71,472.5 885.24,472.1 894.77,471.8 904.31,471.8 913.84,471.2 923.38,470 932.91,469 942.44,468.1 951.98,467.4 961.51,467.4 971.04,466.5 980.58,465.5 990.11,466.3 999.64,466.3 1009.18,466 1018.71,465.6 1028.25,465.6 1037.78,465.6 1047.31,465.6 1056.85,466.3 1066.38,466.3" fill="none" stroke="#3DBDB5" stroke-width="1.12" stroke-linejoin="round"/>
<polyline points="-1.38,502.1 8.15,500.9 17.68,500.4 27.22,500.4 36.75,500.5 46.28,501.2 55.82,501.2 65.35,501.2 74.89,501.2 84.42,500.5 93.95,500.5 103.49,500.5 113.02,501.2 122.55,501.2 132.09,500.5 141.62,501.2 151.15,501.2 160.69,501.2 170.22,500.4 179.75,499.1 189.29,497.9 198.82,496.5 208.36,493.9 217.89,492.4 227.42,491.3 236.96,489.2 246.49,486.4 256.02,483.8 265.56,481.4 275.09,476.5 284.62,471.8 294.16,466.9 303.69,465.5 313.23,466.9 322.76,469.5 332.29,472.1 341.83,473.5 351.36,474.4 360.89,474.4 370.43,475.2 379.96,475.2 389.49,475.2 399.03,475.2 408.56,475.2 418.09,475.2 427.63,475.2 437.16,477 446.7,477 456.23,477 465.76,477 475.3,477 484.83,477.3 494.36,478.2 503.9,478.2 513.43,479.1 522.96,477 532.5,477 542.03,478.7 551.57,480.5 561.1,481.7 570.63,482.6 580.17,484 589.7,486.1 599.23,488.7 608.77,490.4 618.3,491.3 627.83,489.6 637.37,489.4 646.9,489.6 656.43,489.2 665.97,488.3 675.5,488.2 685.04,488.2 694.57,488.2 704.1,488.2 713.64,487.5 723.17,488.2 732.7,488.2 742.24,488.2 751.77,488.3 761.3,489.2 770.84,489.2 780.37,488.3 789.91,487.3 799.44,485.2 808.97,483.4 818.51,483.4 828.04,483.1 837.57,482.6 847.11,484 856.64,484 866.17,484.3 875.71,484.3 885.24,483.4 894.77,483.4 904.31,484.3 913.84,485.2 923.38,486.4 932.91,487.5 942.44,488.3 951.98,489.2 961.51,489.6 971.04,490.4 980.58,489.6 990.11,490.4 999.64,491.3 1009.18,491.3 1018.71,490.4 1028.25,490.4 1037.78,489.6 1047.31,490.4 1056.85,492.2 1066.38,494.4" fill="none" stroke="#EC44C0" stroke-width="1.12" stroke-linejoin="round"/>
<rect x="-2" y="487.75" width="1" height="1" fill="#ED4854"/>
<rect x="-6.5" y="488" width="4.5" height="1" fill="#ED4854"/>
<rect x="-1" y="487" width="3" height="1" fill="#ED4854"/>
<rect x="8" y="484.86" width="1" height="3.1" fill="#ED4854"/>
<rect x="3.5" y="487" width="4.5" height="1" fill="#ED4854"/>
<rect x="9" y="485" width="3" height="1" fill="#ED4854"/>
<rect x="17" y="484.03" width="1" height="4.88" fill="#2DBA93"/>
<rect x="12.5" y="485" width="4.5" height="1" fill="#2DBA93"/>
<rect x="18" y="488" width="3" height="1" fill="#2DBA93"/>
<rect x="27" y="487.2" width="1" height="5.36" fill="#2DBA93"/>
<rect x="22.5" y="488" width="4.5" height="1" fill="#2DBA93"/>
<rect x="28" y="491" width="3" height="1" fill="#2DBA93"/>
<rect x="36" y="481.88" width="1" height="11.19" fill="#ED4854"/>
<rect x="31.5" y="491" width="4.5" height="1" fill="#ED4854"/>
<rect x="37" y="484" width="3" height="1" fill="#ED4854"/>
<rect x="46" y="480.06" width="1" height="4.74" fill="#ED4854"/>
<rect x="41.5" y="484" width="4.5" height="1" fill="#ED4854"/>
<rect x="47" y="482" width="3" height="1" fill="#ED4854"/>
<rect x="55" y="481.88" width="1" height="5.87" fill="#2DBA93"/>
<rect x="50.5" y="482" width="4.5" height="1" fill="#2DBA93"/>
<rect x="56" y="486" width="3" height="1" fill="#2DBA93"/>
<rect x="65" y="485.02" width="1" height="1.57" fill="#ED4854"/>
<rect x="60.5" y="486" width="4.5" height="1" fill="#ED4854"/>
<rect x="66" y="485" width="3" height="1" fill="#ED4854"/>
<rect x="74" y="481.88" width="1" height="4.46" fill="#ED4854"/>
<rect x="69.5" y="485" width="4.5" height="1" fill="#ED4854"/>
<rect x="75" y="483" width="3" height="1" fill="#ED4854"/>
<rect x="84" y="481.88" width="1" height="5.26" fill="#2DBA93"/>
<rect x="79.5" y="483" width="4.5" height="1" fill="#2DBA93"/>
<rect x="85" y="485" width="3" height="1" fill="#2DBA93"/>
<rect x="93" y="483.06" width="1" height="4.29" fill="#ED4854"/>
<rect x="88.5" y="485" width="4.5" height="1" fill="#ED4854"/>
<rect x="94" y="483" width="3" height="1" fill="#ED4854"/>
<rect x="103" y="476.32" width="1" height="8.88" fill="#ED4854"/>
<rect x="98.5" y="483" width="4.5" height="1" fill="#ED4854"/>
<rect x="104" y="478" width="3" height="1" fill="#ED4854"/>
<rect x="113" y="463.27" width="1" height="16.79" fill="#ED4854"/>
<rect x="108.5" y="478" width="4.5" height="1" fill="#ED4854"/>
<rect x="114" y="467" width="3" height="1" fill="#ED4854"/>
<rect x="122" y="460.14" width="1" height="8.57" fill="#ED4854"/>
<rect x="117.5" y="467" width="4.5" height="1" fill="#ED4854"/>
<rect x="123" y="463" width="3" height="1" fill="#ED4854"/>
<rect x="132" y="461.93" width="1" height="2.85" fill="#2DBA93"/>
<rect x="127.5" y="463" width="4.5" height="1" fill="#2DBA93"/>
<rect x="133" y="463" width="3" height="1" fill="#2DBA93"/>
<rect x="141" y="458.17" width="1" height="5.77" fill="#ED4854"/>
<rect x="136.5" y="463" width="4.5" height="1" fill="#ED4854"/>
<rect x="142" y="459" width="3" height="1" fill="#ED4854"/>
<rect x="151" y="449.41" width="1" height="10.46" fill="#ED4854"/>
<rect x="146.5" y="459" width="4.5" height="1" fill="#ED4854"/>
<rect x="152" y="457" width="3" height="1" fill="#ED4854"/>
<rect x="160" y="457.83" width="1" height="9.73" fill="#2DBA93"/>
<rect x="155.5" y="457" width="4.5" height="1" fill="#2DBA93"/>
<rect x="161" y="462" width="3" height="1" fill="#2DBA93"/>
<rect x="170" y="457.11" width="1" height="7.26" fill="#ED4854"/>
<rect x="165.5" y="462" width="4.5" height="1" fill="#ED4854"/>
<rect x="171" y="460" width="3" height="1" fill="#ED4854"/>
<rect x="179" y="455.12" width="1" height="8.25" fill="#ED4854"/>
<rect x="174.5" y="460" width="4.5" height="1" fill="#ED4854"/>
<rect x="180" y="459" width="3" height="1" fill="#ED4854"/>
<rect x="189" y="455.4" width="1" height="9.58" fill="#2DBA93"/>
<rect x="184.5" y="459" width="4.5" height="1" fill="#2DBA93"/>
<rect x="190" y="462" width="3" height="1" fill="#2DBA93"/>
<rect x="198" y="461.16" width="1" height="2.62" fill="#2DBA93"/>
<rect x="193.5" y="462" width="4.5" height="1" fill="#2DBA93"/>
<rect x="199" y="462" width="3" height="1" fill="#2DBA93"/>
<rect x="208" y="460.14" width="1" height="5.73" fill="#2DBA93"/>
<rect x="203.5" y="462" width="4.5" height="1" fill="#2DBA93"/>
<rect x="209" y="464" width="3" height="1" fill="#2DBA93"/>
<rect x="217" y="458" width="1" height="7.81" fill="#ED4854"/>
<rect x="212.5" y="464" width="4.5" height="1" fill="#ED4854"/>
<rect x="218" y="463" width="3" height="1" fill="#ED4854"/>
<rect x="227" y="456.53" width="1" height="10.6" fill="#ED4854"/>
<rect x="222.5" y="463" width="4.5" height="1" fill="#ED4854"/>
<rect x="228" y="457" width="3" height="1" fill="#ED4854"/>
<rect x="236" y="456.94" width="1" height="6.83" fill="#2DBA93"/>
<rect x="231.5" y="457" width="4.5" height="1" fill="#2DBA93"/>
<rect x="237" y="460" width="3" height="1" fill="#2DBA93"/>
<rect x="246" y="458.58" width="1" height="5.63" fill="#2DBA93"/>
<rect x="241.5" y="460" width="4.5" height="1" fill="#2DBA93"/>
<rect x="247" y="461" width="3" height="1" fill="#2DBA93"/>
<rect x="256" y="460.99" width="1" height="8.97" fill="#2DBA93"/>
<rect x="251.5" y="461" width="4.5" height="1" fill="#2DBA93"/>
<rect x="257" y="463" width="3" height="1" fill="#2DBA93"/>
<rect x="265" y="461.43" width="1" height="2.78" fill="#ED4854"/>
<rect x="260.5" y="463" width="4.5" height="1" fill="#ED4854"/>
<rect x="266" y="462" width="3" height="1" fill="#ED4854"/>
<rect x="275" y="458" width="1" height="4.67" fill="#ED4854"/>
<rect x="270.5" y="462" width="4.5" height="1" fill="#ED4854"/>
<rect x="276" y="458" width="3" height="1" fill="#ED4854"/>
<rect x="284" y="457.83" width="1" height="5.71" fill="#2DBA93"/>
<rect x="279.5" y="458" width="4.5" height="1" fill="#2DBA93"/>
<rect x="285" y="462" width="3" height="1" fill="#2DBA93"/>
<rect x="294" y="459.09" width="1" height="5.52" fill="#2DBA93"/>
<rect x="289.5" y="462" width="4.5" height="1" fill="#2DBA93"/>
<rect x="295" y="462" width="3" height="1" fill="#2DBA93"/>
<rect x="303" y="460.38" width="1" height="7.18" fill="#2DBA93"/>
<rect x="298.5" y="462" width="4.5" height="1" fill="#2DBA93"/>
<rect x="304" y="462" width="3" height="1" fill="#2DBA93"/>
<rect x="313" y="459.97" width="1" height="8.34" fill="#2DBA93"/>
<rect x="308.5" y="462" width="4.5" height="1" fill="#2DBA93"/>
<rect x="314" y="467" width="3" height="1" fill="#2DBA93"/>
<rect x="322" y="466.9" width="1" height="7.95" fill="#2DBA93"/>
<rect x="317.5" y="467" width="4.5" height="1" fill="#2DBA93"/>
<rect x="323" y="473" width="3" height="1" fill="#2DBA93"/>
<rect x="332" y="471.68" width="1" height="5.02" fill="#2DBA93"/>
<rect x="327.5" y="473" width="4.5" height="1" fill="#2DBA93"/>
<rect x="333" y="475" width="3" height="1" fill="#2DBA93"/>
<rect x="341" y="469.96" width="1" height="6.94" fill="#ED4854"/>
<rect x="336.5" y="475" width="4.5" height="1" fill="#ED4854"/>
<rect x="342" y="471" width="3" height="1" fill="#ED4854"/>
<rect x="351" y="467.72" width="1" height="3.86" fill="#ED4854"/>
<rect x="346.5" y="471" width="4.5" height="1" fill="#ED4854"/>
<rect x="352" y="469" width="3" height="1" fill="#ED4854"/>
<rect x="360" y="469.37" width="1" height="5.74" fill="#2DBA93"/>
<rect x="355.5" y="469" width="4.5" height="1" fill="#2DBA93"/>
<rect x="361" y="471" width="3" height="1" fill="#2DBA93"/>
<rect x="370" y="467.72" width="1" height="5.58" fill="#ED4854"/>
<rect x="365.5" y="471" width="4.5" height="1" fill="#ED4854"/>
<rect x="371" y="469" width="3" height="1" fill="#ED4854"/>
<rect x="379" y="463.11" width="1" height="8.09" fill="#ED4854"/>
<rect x="374.5" y="469" width="4.5" height="1" fill="#ED4854"/>
<rect x="380" y="463" width="3" height="1" fill="#ED4854"/>
<rect x="389" y="463.11" width="1" height="4.19" fill="#2DBA93"/>
<rect x="384.5" y="463" width="4.5" height="1" fill="#2DBA93"/>
<rect x="390" y="465" width="3" height="1" fill="#2DBA93"/>
<rect x="399" y="462.44" width="1" height="3.6" fill="#2DBA93"/>
<rect x="394.5" y="465" width="4.5" height="1" fill="#2DBA93"/>
<rect x="400" y="466" width="3" height="1" fill="#2DBA93"/>
<rect x="408" y="459.12" width="1" height="6.88" fill="#ED4854"/>
<rect x="403.5" y="466" width="4.5" height="1" fill="#ED4854"/>
<rect x="409" y="459" width="3" height="1" fill="#ED4854"/>
<rect x="418" y="451.65" width="1" height="10.38" fill="#2DBA93"/>
<rect x="413.5" y="459" width="4.5" height="1" fill="#2DBA93"/>
<rect x="419" y="461" width="3" height="1" fill="#2DBA93"/>
<rect x="427" y="456.74" width="1" height="4.96" fill="#ED4854"/>
<rect x="422.5" y="461" width="4.5" height="1" fill="#ED4854"/>
<rect x="428" y="457" width="3" height="1" fill="#ED4854"/>
<rect x="437" y="448.67" width="1" height="11.5" fill="#ED4854"/>
<rect x="432.5" y="457" width="4.5" height="1" fill="#ED4854"/>
<rect x="438" y="449" width="3" height="1" fill="#ED4854"/>
<rect x="446" y="446.59" width="1" height="17.82" fill="#2DBA93"/>
<rect x="441.5" y="449" width="4.5" height="1" fill="#2DBA93"/>
<rect x="447" y="461" width="3" height="1" fill="#2DBA93"/>
<rect x="456" y="459.46" width="1" height="5.55" fill="#2DBA93"/>
<rect x="451.5" y="461" width="4.5" height="1" fill="#2DBA93"/>
<rect x="457" y="463" width="3" height="1" fill="#2DBA93"/>
<rect x="465" y="462.54" width="1" height="1.87" fill="#ED4854"/>
<rect x="460.5" y="464" width="4.5" height="1" fill="#ED4854"/>
<rect x="466" y="463" width="3" height="1" fill="#ED4854"/>
<rect x="475" y="460.75" width="1" height="3.39" fill="#ED4854"/>
<rect x="470.5" y="463" width="4.5" height="1" fill="#ED4854"/>
<rect x="476" y="463" width="3" height="1" fill="#ED4854"/>
<rect x="484" y="463.31" width="1" height="6.94" fill="#2DBA93"/>
<rect x="479.5" y="463" width="4.5" height="1" fill="#2DBA93"/>
<rect x="485" y="466" width="3" height="1" fill="#2DBA93"/>
<rect x="494" y="465.41" width="1" height="9.41" fill="#2DBA93"/>
<rect x="489.5" y="466" width="4.5" height="1" fill="#2DBA93"/>
<rect x="495" y="474" width="3" height="1" fill="#2DBA93"/>
<rect x="503" y="470.38" width="1" height="5.4" fill="#ED4854"/>
<rect x="498.5" y="474" width="4.5" height="1" fill="#ED4854"/>
<rect x="504" y="471" width="3" height="1" fill="#ED4854"/>
<rect x="513" y="469.83" width="1" height="6.59" fill="#2DBA93"/>
<rect x="508.5" y="471" width="4.5" height="1" fill="#2DBA93"/>
<rect x="514" y="475" width="3" height="1" fill="#2DBA93"/>
<rect x="522" y="463.57" width="1" height="13.73" fill="#ED4854"/>
<rect x="517.5" y="475" width="4.5" height="1" fill="#ED4854"/>
<rect x="523" y="464" width="3" height="1" fill="#ED4854"/>
<rect x="532" y="464.41" width="1" height="6.07" fill="#2DBA93"/>
<rect x="527.5" y="464" width="4.5" height="1" fill="#2DBA93"/>
<rect x="533" y="468" width="3" height="1" fill="#2DBA93"/>
<rect x="542" y="467.76" width="1" height="12.18" fill="#2DBA93"/>
<rect x="537.5" y="468" width="4.5" height="1" fill="#2DBA93"/>
<rect x="543" y="473" width="3" height="1" fill="#2DBA93"/>
<rect x="551" y="472.69" width="1" height="10.25" fill="#2DBA93"/>
<rect x="546.5" y="472" width="4.5" height="1" fill="#2DBA93"/>
<rect x="552" y="481" width="3" height="1" fill="#2DBA93"/>
<rect x="561" y="475.55" width="1" height="9.12" fill="#ED4854"/>
<rect x="556.5" y="481" width="4.5" height="1" fill="#ED4854"/>
<rect x="562" y="477" width="3" height="1" fill="#ED4854"/>
<rect x="570" y="475.14" width="1" height="5.21" fill="#2DBA93"/>
<rect x="565.5" y="477" width="4.5" height="1" fill="#2DBA93"/>
<rect x="571" y="478" width="3" height="1" fill="#2DBA93"/>
<rect x="580" y="473.11" width="1" height="6.2" fill="#ED4854"/>
<rect x="575.5" y="478" width="4.5" height="1" fill="#ED4854"/>
<rect x="581" y="475" width="3" height="1" fill="#ED4854"/>
<rect x="589" y="475.14" width="1" height="12.25" fill="#2DBA93"/>
<rect x="584.5" y="475" width="4.5" height="1" fill="#2DBA93"/>
<rect x="590" y="485" width="3" height="1" fill="#2DBA93"/>
<rect x="599" y="483.75" width="1" height="3.88" fill="#ED4854"/>
<rect x="594.5" y="485" width="4.5" height="1" fill="#ED4854"/>
<rect x="600" y="484" width="3" height="1" fill="#ED4854"/>
<rect x="608" y="482.5" width="1" height="3.35" fill="#2DBA93"/>
<rect x="603.5" y="484" width="4.5" height="1" fill="#2DBA93"/>
<rect x="609" y="485" width="3" height="1" fill="#2DBA93"/>
<rect x="618" y="481.57" width="1" height="6.25" fill="#ED4854"/>
<rect x="613.5" y="485" width="4.5" height="1" fill="#ED4854"/>
<rect x="619" y="483" width="3" height="1" fill="#ED4854"/>
<rect x="627" y="477.18" width="1" height="7.93" fill="#ED4854"/>
<rect x="622.5" y="483" width="4.5" height="1" fill="#ED4854"/>
<rect x="628" y="478" width="3" height="1" fill="#ED4854"/>
<rect x="637" y="475.17" width="1" height="4.83" fill="#ED4854"/>
<rect x="632.5" y="478" width="4.5" height="1" fill="#ED4854"/>
<rect x="638" y="477" width="3" height="1" fill="#ED4854"/>
<rect x="646" y="475.97" width="1" height="6.85" fill="#2DBA93"/>
<rect x="641.5" y="477" width="4.5" height="1" fill="#2DBA93"/>
<rect x="647" y="479" width="3" height="1" fill="#2DBA93"/>
<rect x="656" y="473.14" width="1" height="7.64" fill="#2DBA93"/>
<rect x="651.5" y="479" width="4.5" height="1" fill="#2DBA93"/>
<rect x="657" y="479" width="3" height="1" fill="#2DBA93"/>
<rect x="665" y="478.23" width="1" height="3.28" fill="#2DBA93"/>
<rect x="660.5" y="479" width="4.5" height="1" fill="#2DBA93"/>
<rect x="666" y="481" width="3" height="1" fill="#2DBA93"/>
<rect x="675" y="477.59" width="1" height="3.57" fill="#ED4854"/>
<rect x="670.5" y="481" width="4.5" height="1" fill="#ED4854"/>
<rect x="676" y="478" width="3" height="1" fill="#ED4854"/>
<rect x="685" y="474.37" width="1" height="5.47" fill="#ED4854"/>
<rect x="680.5" y="478" width="4.5" height="1" fill="#ED4854"/>
<rect x="686" y="476" width="3" height="1" fill="#ED4854"/>
<rect x="694" y="473.56" width="1" height="5.87" fill="#2DBA93"/>
<rect x="689.5" y="476" width="4.5" height="1" fill="#2DBA93"/>
<rect x="695" y="478" width="3" height="1" fill="#2DBA93"/>
<rect x="704" y="471.1" width="1" height="7.92" fill="#ED4854"/>
<rect x="699.5" y="478" width="4.5" height="1" fill="#ED4854"/>
<rect x="705" y="472" width="3" height="1" fill="#ED4854"/>
<rect x="713" y="468.22" width="1" height="5.02" fill="#ED4854"/>
<rect x="708.5" y="472" width="4.5" height="1" fill="#ED4854"/>
<rect x="714" y="468" width="3" height="1" fill="#ED4854"/>
<rect x="723" y="465.54" width="1" height="4.32" fill="#ED4854"/>
<rect x="718.5" y="468" width="4.5" height="1" fill="#ED4854"/>
<rect x="724" y="467" width="3" height="1" fill="#ED4854"/>
<rect x="732" y="466.2" width="1" height="2.83" fill="#2DBA93"/>
<rect x="727.5" y="466" width="4.5" height="1" fill="#2DBA93"/>
<rect x="733" y="467" width="3" height="1" fill="#2DBA93"/>
<rect x="742" y="466.54" width="1" height="2.5" fill="#2DBA93"/>
<rect x="737.5" y="467" width="4.5" height="1" fill="#2DBA93"/>
<rect x="743" y="469" width="3" height="1" fill="#2DBA93"/>
<rect x="751" y="465.11" width="1" height="5.83" fill="#ED4854"/>
<rect x="746.5" y="469" width="4.5" height="1" fill="#ED4854"/>
<rect x="752" y="468" width="3" height="1" fill="#ED4854"/>
<rect x="761" y="464.88" width="1" height="5.41" fill="#ED4854"/>
<rect x="756.5" y="469" width="4.5" height="1" fill="#ED4854"/>
<rect x="762" y="465" width="3" height="1" fill="#ED4854"/>
<rect x="770" y="463.84" width="1" height="6.44" fill="#2DBA93"/>
<rect x="765.5" y="465" width="4.5" height="1" fill="#2DBA93"/>
<rect x="771" y="466" width="3" height="1" fill="#2DBA93"/>
<rect x="780" y="462.6" width="1" height="4.03" fill="#ED4854"/>
<rect x="775.5" y="466" width="4.5" height="1" fill="#ED4854"/>
<rect x="781" y="464" width="3" height="1" fill="#ED4854"/>
<rect x="789" y="463.61" width="1" height="5.43" fill="#2DBA93"/>
<rect x="784.5" y="464" width="4.5" height="1" fill="#2DBA93"/>
<rect x="790" y="468" width="3" height="1" fill="#2DBA93"/>
<rect x="799" y="466.8" width="1" height="1.48" fill="#ED4854"/>
<rect x="794.5" y="468" width="4.5" height="1" fill="#ED4854"/>
<rect x="800" y="467" width="3" height="1" fill="#ED4854"/>
<rect x="808" y="467.36" width="1" height="1.68" fill="#2DBA93"/>
<rect x="803.5" y="467" width="4.5" height="1" fill="#2DBA93"/>
<rect x="809" y="469" width="3" height="1" fill="#2DBA93"/>
<rect x="818" y="468.35" width="1" height="9.4" fill="#2DBA93"/>
<rect x="813.5" y="468" width="4.5" height="1" fill="#2DBA93"/>
<rect x="819" y="475" width="3" height="1" fill="#2DBA93"/>
<rect x="828" y="473.37" width="1" height="4.39" fill="#2DBA93"/>
<rect x="823.5" y="474" width="4.5" height="1" fill="#2DBA93"/>
<rect x="829" y="476" width="3" height="1" fill="#2DBA93"/>
<rect x="837" y="471.91" width="1" height="7.05" fill="#ED4854"/>
<rect x="832.5" y="476" width="4.5" height="1" fill="#ED4854"/>
<rect x="838" y="473" width="3" height="1" fill="#ED4854"/>
<rect x="847" y="472.98" width="1" height="11.57" fill="#2DBA93"/>
<rect x="842.5" y="473" width="4.5" height="1" fill="#2DBA93"/>
<rect x="848" y="484" width="3" height="1" fill="#2DBA93"/>
<rect x="856" y="480.63" width="1" height="3.93" fill="#ED4854"/>
<rect x="851.5" y="484" width="4.5" height="1" fill="#ED4854"/>
<rect x="857" y="482" width="3" height="1" fill="#ED4854"/>
<rect x="866" y="481.79" width="1" height="1.75" fill="#2DBA93"/>
<rect x="861.5" y="481" width="4.5" height="1" fill="#2DBA93"/>
<rect x="867" y="482" width="3" height="1" fill="#2DBA93"/>
<rect x="875" y="475.58" width="1" height="7.54" fill="#ED4854"/>
<rect x="870.5" y="482" width="4.5" height="1" fill="#ED4854"/>
<rect x="876" y="476" width="3" height="1" fill="#ED4854"/>
<rect x="885" y="470.67" width="1" height="6.98" fill="#ED4854"/>
<rect x="880.5" y="476" width="4.5" height="1" fill="#ED4854"/>
<rect x="886" y="471" width="3" height="1" fill="#ED4854"/>
<rect x="894" y="469.69" width="1" height="5.22" fill="#2DBA93"/>
<rect x="889.5" y="470" width="4.5" height="1" fill="#2DBA93"/>
<rect x="895" y="471" width="3" height="1" fill="#2DBA93"/>
<rect x="904" y="460.78" width="1" height="11.13" fill="#ED4854"/>
<rect x="899.5" y="471" width="4.5" height="1" fill="#ED4854"/>
<rect x="905" y="460" width="3" height="1" fill="#ED4854"/>
<rect x="913" y="455.02" width="1" height="6.64" fill="#ED4854"/>
<rect x="908.5" y="461" width="4.5" height="1" fill="#ED4854"/>
<rect x="914" y="456" width="3" height="1" fill="#ED4854"/>
<rect x="923" y="448.15" width="1" height="11.18" fill="#ED4854"/>
<rect x="918.5" y="456" width="4.5" height="1" fill="#ED4854"/>
<rect x="924" y="452" width="3" height="1" fill="#ED4854"/>
<rect x="932" y="450.82" width="1" height="3.17" fill="#ED4854"/>
<rect x="927.5" y="452" width="4.5" height="1" fill="#ED4854"/>
<rect x="933" y="451" width="3" height="1" fill="#ED4854"/>
<rect x="942" y="443.2" width="1" height="9.19" fill="#ED4854"/>
<rect x="937.5" y="452" width="4.5" height="1" fill="#ED4854"/>
<rect x="943" y="449" width="3" height="1" fill="#ED4854"/>
<rect x="951" y="442.77" width="1" height="7.42" fill="#ED4854"/>
<rect x="946.5" y="449" width="4.5" height="1" fill="#ED4854"/>
<rect x="952" y="446" width="3" height="1" fill="#ED4854"/>
<rect x="961" y="445.31" width="1" height="10.84" fill="#2DBA93"/>
<rect x="956.5" y="446" width="4.5" height="1" fill="#2DBA93"/>
<rect x="962" y="454" width="3" height="1" fill="#2DBA93"/>
<rect x="971" y="447.37" width="1" height="7.65" fill="#ED4854"/>
<rect x="966.5" y="454" width="4.5" height="1" fill="#ED4854"/>
<rect x="972" y="449" width="3" height="1" fill="#ED4854"/>
<rect x="980" y="448.43" width="1" height="10.05" fill="#2DBA93"/>
<rect x="975.5" y="449" width="4.5" height="1" fill="#2DBA93"/>
<rect x="981" y="453" width="3" height="1" fill="#2DBA93"/>
<rect x="990" y="451.51" width="1" height="49.8" fill="#2DBA93"/>
<rect x="985.5" y="453" width="4.5" height="1" fill="#2DBA93"/>
<rect x="991" y="474" width="3" height="1" fill="#2DBA93"/>
<rect x="999" y="473.27" width="1" height="9.08" fill="#2DBA93"/>
<rect x="994.5" y="474" width="4.5" height="1" fill="#2DBA93"/>
<rect x="1000" y="479" width="3" height="1" fill="#2DBA93"/>
<rect x="1009" y="467.46" width="1" height="14.89" fill="#ED4854"/>
<rect x="1004.5" y="479" width="4.5" height="1" fill="#ED4854"/>
<rect x="1010" y="469" width="3" height="1" fill="#ED4854"/>
<rect x="1018" y="467.03" width="1" height="5.53" fill="#ED4854"/>
<rect x="1013.5" y="469" width="4.5" height="1" fill="#ED4854"/>
<rect x="1019" y="469" width="3" height="1" fill="#ED4854"/>
<rect x="1028" y="468.45" width="1" height="13.21" fill="#2DBA93"/>
<rect x="1023.5" y="469" width="4.5" height="1" fill="#2DBA93"/>
<rect x="1029" y="474" width="3" height="1" fill="#2DBA93"/>
<rect x="1037" y="472.72" width="1" height="8.28" fill="#2DBA93"/>
<rect x="1032.5" y="473" width="4.5" height="1" fill="#2DBA93"/>
<rect x="1038" y="479" width="3" height="1" fill="#2DBA93"/>
<rect x="1047" y="476.64" width="1" height="10.87" fill="#2DBA93"/>
<rect x="1042.5" y="479" width="4.5" height="1" fill="#2DBA93"/>
<rect x="1048" y="485" width="3" height="1" fill="#2DBA93"/>
<rect x="1056" y="483.13" width="1" height="13.63" fill="#2DBA93"/>
<rect x="1051.5" y="485" width="4.5" height="1" fill="#2DBA93"/>
<rect x="1057" y="490" width="3" height="1" fill="#2DBA93"/>
<rect x="1066" y="487.26" width="1" height="2.92" fill="#ED4854"/>
<rect x="1061.5" y="490" width="4.5" height="1" fill="#ED4854"/>
<rect x="1067" y="489" width="3" height="1" fill="#ED4854"/>
<g stroke="#CDCDCD" stroke-width="1" stroke-dasharray="5 5">
<line x1="1.5" y1="585.5" x2="1187" y2="585.5"/>
<line x1="1.5" y1="593.5" x2="1187" y2="593.5"/>
<line x1="1.5" y1="601.5" x2="1187" y2="601.5"/>
</g>
<polyline points="-1.38,585.6 8.15,583.2 17.68,583.2 27.22,585.6 36.75,584.9 46.28,584.9 55.82,587 65.35,589.3 74.89,588.4 84.42,589.3 93.95,588.4 103.49,586.7 113.02,585.3 122.55,585.6 132.09,584.4 141.62,583.2 151.15,584.4 160.69,586.7 170.22,586.7 179.75,587.4 189.29,588.4 198.82,591.9 208.36,595.4 217.89,597.5 227.42,595.4 236.96,594 246.49,593.7 256.02,594 265.56,593.5 275.09,590.5 284.62,590.5 294.16,591.1 303.69,591.8 313.23,595.4 322.76,598 332.29,600.6 341.83,600.6 351.36,599.3 360.89,599.3 370.43,597.5 379.96,593.1 389.49,591.8 399.03,589.7 408.56,587.4 418.09,588.4 427.63,587.4 437.16,584.9 446.7,588.8 456.23,592.6 465.76,595.4 475.3,598.4 484.83,599.6 494.36,602.4 503.9,602.4 513.43,603.6 522.96,601.3 532.5,598.4 542.03,598.4 551.57,600.1 561.1,599.3 570.63,599.3 580.17,597.5 589.7,599.8 599.23,601.5 608.77,602.4 618.3,601.9 627.83,597.5 637.37,594.4 646.9,593.1 656.43,593.1 665.97,593.1 675.5,592.3 685.04,590.5 694.57,589.3 704.1,587 713.64,584.4 723.17,583.9 732.7,583.2 742.24,583.9 751.77,584.4 761.3,583.2 770.84,583.2 780.37,583.2 789.91,586.2 799.44,590.5 808.97,593.7 818.51,596.6 828.04,599.6 837.57,598.7 847.11,601.3 856.64,602.4 866.17,602.4 875.71,600.1 885.24,595.8 894.77,592.6 904.31,588.8 913.84,585.6 923.38,584.4 932.91,584.4 942.44,584.4 951.98,583.2 961.51,585.3 971.04,585.3 980.58,587.4 990.11,589.7 999.64,592.6 1009.18,592.6 1018.71,592.6 1028.25,593.7 1037.78,594.5 1047.31,595.8 1056.85,597.2 1066.38,598.4" fill="none" stroke="#2AC8AC" stroke-width="1.12" stroke-linejoin="round"/>
<polyline points="-1.38,588.3 8.15,586.5 17.68,585.6 27.22,585.6 36.75,585.3 46.28,585.3 55.82,586.2 65.35,587.4 74.89,587.9 84.42,588.4 93.95,588.4 103.49,587.4 113.02,587.4 122.55,586.5 132.09,585.6 141.62,585.6 151.15,584.4 160.69,585.6 170.22,585.6 179.75,586.5 189.29,586.7 198.82,588.4 208.36,590.9 217.89,592.6 227.42,593.5 236.96,593.7 246.49,593.7 256.02,594 265.56,594 275.09,592.6 284.62,592.6 294.16,591.4 303.69,591.4 313.23,592.6 322.76,594.4 332.29,596.6 341.83,597.5 351.36,598.4 360.89,598.7 370.43,598 379.96,596.1 389.49,594.9 399.03,593.1 408.56,591.4 418.09,590.2 427.63,589.1 437.16,587.9 446.7,587.9 456.23,589.7 465.76,591.8 475.3,594 484.83,595.8 494.36,598 503.9,599.8 513.43,600.6 522.96,601 532.5,600.1 542.03,599.8 551.57,599.8 561.1,599.6 570.63,599.6 580.17,598.7 589.7,599.3 599.23,599.6 608.77,600.5 618.3,601.5 627.83,600.1 637.37,598.1 646.9,596.3 656.43,595.4 665.97,594.4 675.5,594 685.04,592.6 694.57,591.4 704.1,590.2 713.64,588.3 723.17,586.5 732.7,585.6 742.24,585.3 751.77,584.9 761.3,584.4 770.84,584.1 780.37,584.1 789.91,584.9 799.44,586.5 808.97,588.8 818.51,591.4 828.04,594 837.57,595.4 847.11,597.5 856.64,599.3 866.17,600.6 875.71,601 885.24,598.7 894.77,596.6 904.31,593.7 913.84,591.4 923.38,589.1 932.91,587.4 942.44,586.2 951.98,585.3 961.51,585.3 971.04,585.3 980.58,586.2 990.11,587.4 999.64,588.8 1009.18,590.5 1018.71,590.5 1028.25,591.8 1037.78,592.6 1047.31,593.5 1056.85,594.5 1066.38,596.6" fill="none" stroke="#FFA800" stroke-width="1.12" stroke-linejoin="round"/>
<polyline points="-1.38,578.3 8.15,577.1 17.68,579.2 27.22,585.3 36.75,584.4 46.28,584.4 55.82,590 65.35,592.6 74.89,589.3 84.42,591.4 93.95,589.7 103.49,585.3 113.02,583.2 122.55,582.3 132.09,581.3 141.62,580.4 151.15,583.6 160.69,587 170.22,588.3 179.75,588.3 189.29,591.8 198.82,598.4 208.36,603.3 217.89,605.7 227.42,598.7 236.96,594.4 246.49,594.4 256.02,594.4 265.56,593.1 275.09,586.5 284.62,587.6 294.16,589.7 303.69,591.4 313.23,598.7 322.76,604.5 332.29,608.5 341.83,604.5 351.36,600.6 360.89,600.5 370.43,597 379.96,588.3 389.49,586.2 399.03,582.7 408.56,578.3 418.09,583.2 427.63,583.2 437.16,580.4 446.7,589.7 456.23,597.2 465.76,602.7 475.3,607.5 484.83,607.5 494.36,610.6 503.9,608.5 513.43,609.4 522.96,601.9 532.5,595.8 542.03,595.8 551.57,601.5 561.1,598.4 570.63,598.4 580.17,595.4 589.7,601 599.23,603.6 608.77,605.4 618.3,601.9 627.83,593.7 637.37,587.4 646.9,587.4 656.43,588.8 665.97,590.5 675.5,589.1 685.04,585.6 694.57,585.6 704.1,580.6 713.64,577.4 723.17,578 732.7,579.2 742.24,582.2 751.77,584.1 761.3,581.3 770.84,582.3 780.37,582.3 789.91,588.8 799.44,596.6 808.97,602.4 818.51,605.9 828.04,609.4 837.57,605.4 847.11,608 856.64,608.8 866.17,607.1 875.71,599.3 885.24,588.3 894.77,583.6 904.31,577.4 913.84,575.4 923.38,576.2 932.91,577.4 942.44,579.2 951.98,580.4 961.51,585.3 971.04,585.3 980.58,588.8 990.11,594 999.64,598.4 1009.18,596.6 1018.71,595.4 1028.25,596.3 1037.78,597.5 1047.31,600.6 1056.85,603.3 1066.38,603.3" fill="none" stroke="#EC44C0" stroke-width="1.12" stroke-linejoin="round"/>
<text x="1225" y="30.3" font-size="12" text-anchor="middle" fill="#7C8594">125906.7</text>
<text x="1225" y="80.3" font-size="12" text-anchor="middle" fill="#7C8594">118592.2</text>
<text x="1225" y="130.3" font-size="12" text-anchor="middle" fill="#7C8594">111702.6</text>
<text x="1225" y="180.3" font-size="12" text-anchor="middle" fill="#7C8594">105213.3</text>
<text x="1225" y="230.3" font-size="12" text-anchor="middle" fill="#7C8594">99101.0</text>
<text x="1225" y="280.3" font-size="12" text-anchor="middle" fill="#7C8594">93343.8</text>
<text x="1225" y="320.3" font-size="12" text-anchor="middle" fill="#7C8594">4000.0</text>
<text x="1225" y="348.3" font-size="12" text-anchor="middle" fill="#7C8594">2000.0</text>
<text x="1225" y="376.3" font-size="12" text-anchor="middle" fill="#7C8594">0.0</text>
<text x="1225" y="403.3" font-size="12" text-anchor="middle" fill="#7C8594">-2000.0</text>
<text x="1225" y="461.3" font-size="12" text-anchor="middle" fill="#7C8594">120000.0</text>
<text x="1225" y="509.3" font-size="12" text-anchor="middle" fill="#7C8594">100000.0</text>
<text x="1225" y="611.3" font-size="12" text-anchor="middle" fill="#7C8594">0.00</text>
<text x="1225" y="627.3" font-size="12" text-anchor="middle" fill="#7C8594">100.00</text>
<rect x="1190" y="154" width="70" height="20" fill="#ED4854"/>
<rect x="1190" y="164" width="5.5" height="1" fill="#fff"/>
<text x="1225" y="168" font-size="12" font-weight="bold" text-anchor="middle" fill="#fff">106731.9</text>
<rect x="1258" y="333" width="6" height="37.5" rx="2" fill="#E6E7EB"/>
<rect x="1259.5" y="351.5" width="1.5" height="1.5" fill="#9A7FB5"/>
<text x="660.5" y="620.5" font-size="24" text-anchor="middle" fill="#F2464E" font-family="'Noto Sans CJK SC','Liberation Sans',sans-serif">比特币日K线</text>
</svg>
</body></html>
